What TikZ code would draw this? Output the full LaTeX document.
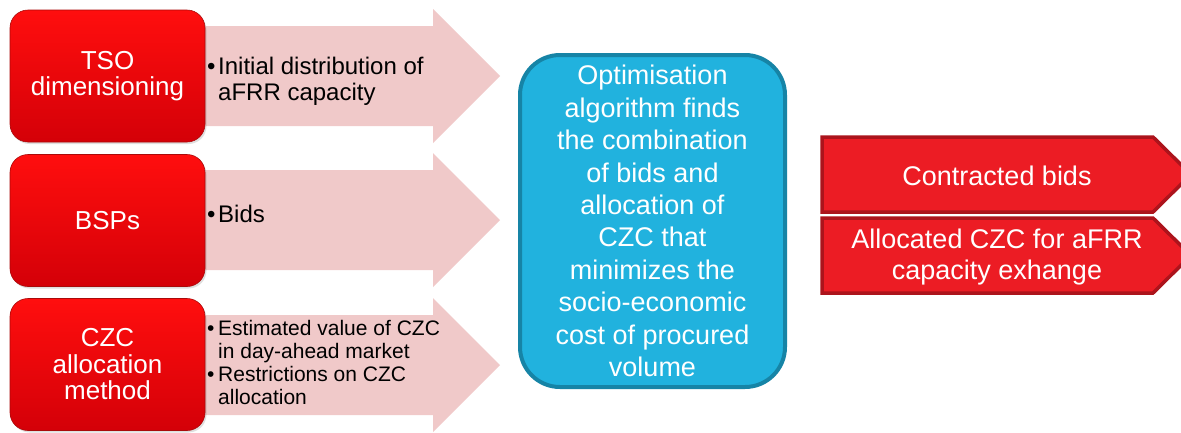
\documentclass[tikz,border=0pt]{standalone}
\usepackage{fontspec}
\setmainfont{Liberation Sans}
\usetikzlibrary{shadows}
\definecolor{pinkarrow}{RGB}{240,201,201}
\definecolor{redtop}{RGB}{255,14,14}
\definecolor{redbot}{RGB}{212,0,8}
\definecolor{redline}{RGB}{170,10,10}
\definecolor{bluefill}{RGB}{33,178,222}
\definecolor{blueline}{RGB}{22,132,166}
\definecolor{outfill}{RGB}{236,28,36}
\definecolor{outline}{RGB}{172,20,28}
\begin{document}
\begin{tikzpicture}[x=1pt,y=-1pt,
  redbox/.style={draw=redline, line width=0.6pt, rounded corners=18pt,
    top color=redtop, bottom color=redbot, text=white, align=center,
    minimum width=195pt, minimum height=132pt, inner sep=0pt,
    font=\fontsize{26}{26.5}\selectfont,
    drop shadow={opacity=0.25, shadow xshift=1.5pt, shadow yshift=-2pt}},
  pinkarr/.style={fill=pinkarrow},
  bultext/.style={anchor=west, align=left, inner sep=0pt, text=black},
  bluebox/.style={draw=blueline, line width=4pt, fill=bluefill, rounded corners=40pt,
    minimum width=265pt, minimum height=332pt, inner sep=0pt, align=center, text=white,
    font=\fontsize{27}{32.4}\selectfont},
  outarr/.style={draw=outline, line width=3.5pt, fill=outfill, line join=miter},
  outtext/.style={text=white, align=center, inner sep=0pt, font=\fontsize{27}{31}\selectfont}
]
\clip (0,0) rectangle (1181,432);
\fill[white] (0,0) rectangle (1181,432);
\newcommand{\bul}{\makebox[11pt][l]{\textbullet}}
\newcommand{\nobul}{\hspace*{11pt}}
% pink arrows
\fill[pinkarr] (150,26) -- (433,26) -- (433,9) -- (500,76) -- (433,143) -- (433,126) -- (150,126) -- cycle;
\fill[pinkarr] (150,170) -- (433,170) -- (433,153) -- (500,220) -- (433,287) -- (433,270) -- (150,270) -- cycle;
\fill[pinkarr] (150,315) -- (433,315) -- (433,298) -- (500,365) -- (433,432) -- (433,415) -- (150,415) -- cycle;
% red boxes
\node[redbox] (tso) at (107.5,76) {TSO\\dimensioning};
\node[redbox] (bsp) at (107.5,220.5) {BSPs};
\node[redbox] (czc) at (107.5,364.5) {CZC\\allocation\\method};
% bullet texts
\node[bultext, font=\fontsize{24}{26}\selectfont] (t1) at (207,81) {\bul Initial distribution of\\\nobul aFRR capacity};
\node[bultext, font=\fontsize{24}{26}\selectfont] (t2) at (207,214) {\bul Bids};
\node[bultext, font=\fontsize{21}{22.5}\selectfont] (t3) at (207,362.5) {\bul Estimated value of CZC\\\nobul in day-ahead market\\[1pt]\bul Restrictions on CZC\\\nobul allocation};
% blue box
\node[bluebox] (opt) at (652.5,221) {Optimisation\\algorithm finds\\the combination\\of bids and\\allocation of\\CZC that\\minimizes the\\socio-economic\\cost of procured\\volume};
% output arrows
\draw[outarr] (822,137) -- (1153,137) -- (1191,174.5) -- (1153,212) -- (822,212) -- cycle;
\draw[outarr] (822,218) -- (1153,218) -- (1191,255.5) -- (1153,293) -- (822,293) -- cycle;
\node[outtext] (o1) at (997,176) {Contracted bids};
\node[outtext] (o2) at (997,257.5) {Allocated CZC for aFRR\\capacity exhange};
\end{tikzpicture}
\end{document}
